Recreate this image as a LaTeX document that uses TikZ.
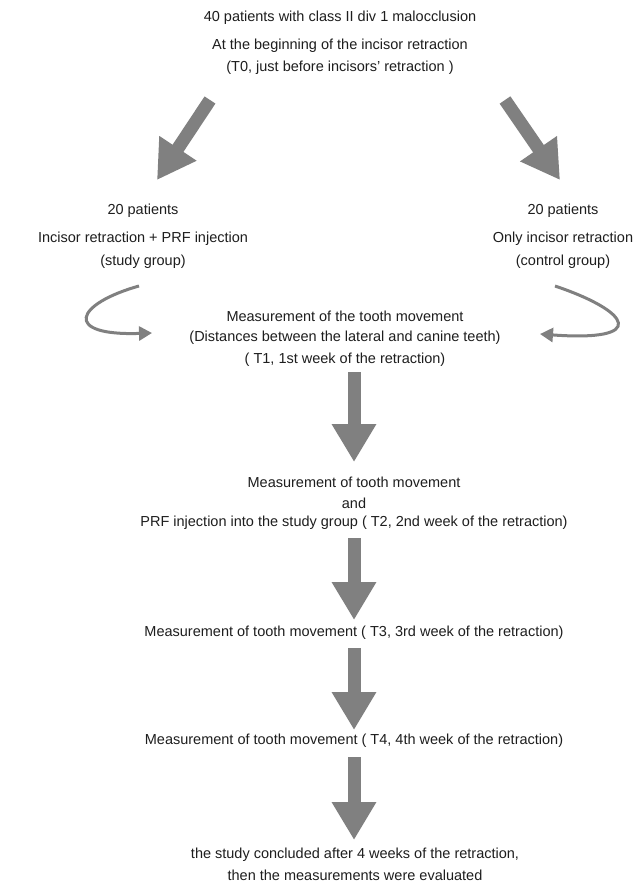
\documentclass[tikz,border=0pt]{standalone}
\usepackage{fontspec}
\setmainfont{Liberation Sans}
\usetikzlibrary{arrows.meta}
\definecolor{arrowgray}{HTML}{808080}
\definecolor{textgray}{HTML}{1E1E1E}
\tikzset{
  txt/.style={inner sep=0pt, text=textgray, font=\fontsize{14.5}{16}\selectfont, anchor=center},
  bigarrow/.style={draw=arrowgray, line width=13pt, -{Triangle[width=42pt,length=38pt]}},
  curvearrow/.style={draw=arrowgray, line width=3pt, -{Triangle[width=14pt,length=13pt]}}
}
\begin{document}
\begin{tikzpicture}[x=1pt,y=-1pt]
\useasboundingbox[fill=white] (0,0) rectangle (642,888);
% top block
\node[txt] (t1) at (340,18) {40 patients with class II div 1 malocclusion};
\node[txt] (t2) at (340,46) {At the beginning of the incisor retraction};
\node[txt] (t3) at (340,68) {(T0, just before incisors' retraction )};
% groups
\node[txt] (l1) at (143,211) {20 patients};
\node[txt] (l2) at (143,239) {Incisor retraction + PRF injection};
\node[txt] (l3) at (143,262) {(study group)};
\node[txt] (r1) at (563,211) {20 patients};
\node[txt] (r2) at (563,239) {Only incisor retraction};
\node[txt] (r3) at (563,262) {(control group)};
% T1
\node[txt] (m1) at (345,316) {Measurement of the tooth movement};
\node[txt] (m2) at (345,338) {(Distances between the lateral and canine teeth)};
\node[txt] (m3) at (345,360) {( T1, 1st week of the retraction)};
% T2
\node[txt] (a1) at (354,482) {Measurement of tooth movement};
\node[txt] (a2) at (354,503) {and};
\node[txt] (a3) at (354,523) {PRF injection into the study group ( T2, 2nd week of the retraction)};
% T3, T4
\node[txt] (b1) at (354,633) {Measurement of tooth movement ( T3, 3rd week of the retraction)};
\node[txt] (c1) at (354,741) {Measurement of tooth movement ( T4, 4th week of the retraction)};
% end
\node[txt] (e1) at (355,855) {the study concluded after 4 weeks of the retraction,};
\node[txt] (e2) at (355,875) {then the measurements were evaluated};
% arrow coordinates
\coordinate (dl0) at (210,100); \coordinate (dl1) at (157,180);
\coordinate (dr0) at (505,100); \coordinate (dr1) at (560,180);
\coordinate (v10) at (354,372); \coordinate (v11) at (354,462);
\coordinate (v20) at (354,538); \coordinate (v21) at (354,620);
\coordinate (v30) at (354,648); \coordinate (v31) at (354,730);
\coordinate (v40) at (354,757); \coordinate (v41) at (354,840);
\coordinate (cl0) at (139,286); \coordinate (cl1) at (152,333);
\coordinate (cr0) at (555,286); \coordinate (cr1) at (540,334);
\draw[bigarrow] (dl0) -- (dl1);
\draw[bigarrow] (dr0) -- (dr1);
\draw[bigarrow] (v10) -- (v11);
\draw[bigarrow] (v20) -- (v21);
\draw[bigarrow] (v30) -- (v31);
\draw[bigarrow] (v40) -- (v41);
\draw[curvearrow] (cl0) .. controls (75,304) and (62,336) .. (cl1);
\draw[curvearrow] (cr0) .. controls (632,312) and (648,342) .. (cr1);
\end{tikzpicture}
\end{document}
